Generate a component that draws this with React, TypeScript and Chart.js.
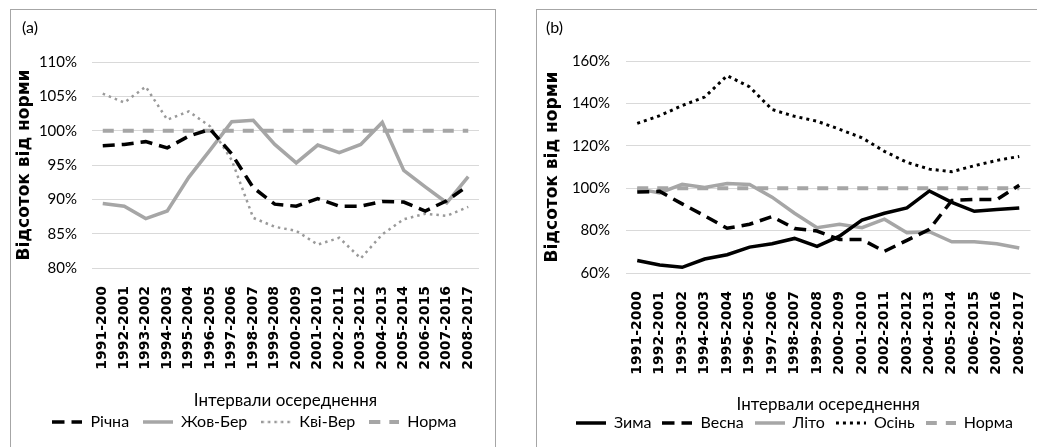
import React, { useEffect, useRef } from "react";
import { Chart, registerables } from "chart.js";

Chart.register(...registerables);

// ---------- data ----------
const intervals = [
  "1991-2000", "1992-2001", "1993-2002", "1994-2003", "1995-2004", "1996-2005",
  "1997-2006", "1998-2007", "1999-2008", "2000-2009", "2001-2010", "2002-2011",
  "2003-2012", "2004-2013", "2005-2014", "2006-2015", "2007-2016", "2008-2017",
];

// panel (a)
const annual = [97.8, 98.0, 98.4, 97.5, 99.2, 100.2, 96.6, 91.7, 89.3, 89.0, 90.1, 89.0, 89.0, 89.7, 89.6, 88.3, 89.8, 92.0];
const octMar = [89.4, 89.0, 87.2, 88.3, 93.2, 97.2, 101.3, 101.5, 98.0, 95.3, 97.9, 96.8, 98.0, 101.2, 94.2, 91.8, 89.5, 93.3];
const aprSep = [105.4, 104.1, 106.4, 101.6, 102.8, 100.6, 95.7, 87.3, 86.0, 85.4, 83.4, 84.4, 81.4, 84.9, 87.1, 87.9, 87.6, 88.9];

// panel (b)
const winter = [65.9, 63.8, 62.7, 66.6, 68.6, 72.2, 73.8, 76.3, 72.6, 77.4, 85.0, 88.2, 90.7, 98.7, 93.3, 89.1, 89.9, 90.7];
const spring = [98.2, 98.5, 92.6, 87.0, 81.1, 83.0, 86.6, 81.0, 79.8, 75.8, 75.8, 70.2, 75.4, 80.6, 94.2, 94.7, 94.6, 101.4];
const summer = [99.8, 97.8, 101.8, 100.3, 102.2, 101.8, 95.8, 88.2, 81.4, 83.0, 81.4, 85.4, 79.0, 79.5, 74.7, 74.7, 73.8, 71.8];
const autumn = [130.6, 134.2, 139.0, 143.0, 153.1, 147.8, 137.1, 133.9, 131.6, 127.8, 123.8, 117.4, 112.2, 109.0, 107.8, 110.6, 113.1, 115.0];

const norm = intervals.map(() => 100);

const labelsA = ["Річна", "Жов-Бер", "Кві-Вер", "Норма"];
const labelsB = ["Зима", "Весна", "Літо", "Осінь", "Норма"];

const yTicksA = { min: 80, max: 110, step: 5 };
const yTicksB = { min: 60, max: 160, step: 20 };

const yTitle = "Відсоток від норми";
const xTitle = "Інтервали осереднення";

// ---------- styles ----------
const GRAY = "#a6a6a6";
const BLACK = "#000000";
const SANS = "Lato, 'Liberation Sans', sans-serif";
const BOLD = "'DejaVu Sans', Verdana, sans-serif";
const SAMPLE_W = 30;

// small legend sample image carrying the series line style
function lineSample(color: string, width: number, dash: number[]) {
  const c = document.createElement("canvas");
  c.width = SAMPLE_W;
  c.height = 16;
  const ctx = c.getContext("2d")!;
  ctx.strokeStyle = color;
  ctx.lineWidth = width;
  ctx.lineCap = "butt";
  ctx.setLineDash(dash);
  ctx.beginPath();
  ctx.moveTo(0, 8);
  ctx.lineTo(SAMPLE_W, 8);
  ctx.stroke();
  return c;
}

function ds(label: string, data: number[], color: string, width: number, dash: number[]) {
  return {
    label,
    data,
    borderColor: color,
    backgroundColor: color,
    borderWidth: width,
    borderDash: dash,
    borderCapStyle: "butt" as const,
    pointRadius: 0,
    pointHoverRadius: 0,
    pointStyle: lineSample(color, width, dash),
    fill: false,
    tension: 0,
  };
}

function panelLabel(text: string, x: number, y: number) {
  return {
    id: "panelLabel",
    afterDraw(chart: any) {
      const ctx = chart.ctx;
      ctx.save();
      ctx.font = `16px ${SANS}`;
      ctx.fillStyle = "#000";
      ctx.textBaseline = "middle";
      ctx.textAlign = "left";
      ctx.fillText(text, x, y);
      ctx.restore();
    },
  };
}

function makeConfig(opts: {
  datasets: any[];
  yr: { min: number; max: number; step: number };
  yWidth: number;
  xHeight: number;
  padLeft: number;
  padRight: number;
  padTop: number;
  yTitlePad: number;
  yTickPad: number;
  legendPad: number;
  tag: string;
  tagX: number;
  tagY: number;
}) {
  return {
    type: "line" as const,
    data: { labels: intervals, datasets: opts.datasets },
    options: {
      responsive: false,
      maintainAspectRatio: false,
      animation: false as const,
      devicePixelRatio: 1,
      layout: { padding: { left: opts.padLeft, right: opts.padRight, top: opts.padTop, bottom: 0 } },
      plugins: {
        title: { display: false },
        tooltip: { enabled: false },
        legend: {
          display: true,
          position: "bottom" as const,
          labels: {
            usePointStyle: true,
            pointStyleWidth: SAMPLE_W,
            color: "#000",
            padding: opts.legendPad,
            font: { family: SANS, size: 16 },
          },
        },
      },
      scales: {
        x: {
          type: "category" as const,
          offset: true,
          grid: {
            display: true,
            color: "rgba(0,0,0,0)",
            drawTicks: true,
            tickLength: 16,
            tickColor: "rgba(0,0,0,0)",
          },
          border: { display: false },
          ticks: {
            autoSkip: false,
            maxRotation: 90,
            minRotation: 90,
            padding: 2,
            color: "#000",
            font: { family: BOLD, size: 14, weight: "bold" as const },
          },
          title: {
            display: true,
            text: xTitle,
            color: "#000",
            font: { family: SANS, size: 17, lineHeight: 1.2 },
            padding: { top: 0, bottom: -11 },
          },
          afterFit: (s: any) => {
            s.height = opts.xHeight;
          },
        },
        y: {
          min: opts.yr.min,
          max: opts.yr.max,
          ticks: {
            stepSize: opts.yr.step,
            padding: opts.yTickPad,
            color: "#000",
            font: { family: SANS, size: 15 },
            callback: (v: any) => `${v}%`,
          },
          grid: { color: "#d9d9d9", lineWidth: 1, drawTicks: false },
          border: { display: false },
          title: {
            display: true,
            text: yTitle,
            color: "#000",
            font: { family: BOLD, size: 17, weight: "bold" as const, lineHeight: 1.2 },
            padding: { top: opts.yTitlePad, bottom: 0 },
          },
          afterFit: (s: any) => {
            s.width = opts.yWidth;
          },
        },
      },
    },
    plugins: [panelLabel(opts.tag, opts.tagX, opts.tagY)],
  };
}

function ChartCanvas({ build, width, height }: { build: () => any; width: number; height: number }) {
  const ref = useRef<HTMLCanvasElement | null>(null);
  useEffect(() => {
    if (!ref.current) return;
    const chart = new Chart(ref.current, build());
    return () => chart.destroy();
  }, []);
  return (
    <canvas
      ref={ref}
      width={width}
      height={height}
      style={{ width, height, display: "block" }}
    />
  );
}

const buildA = () =>
  makeConfig({
    datasets: [
      ds(labelsA[0], annual, BLACK, 3.5, [12, 7]),
      ds(labelsA[1], octMar, GRAY, 3.5, []),
      ds(labelsA[2], aprSep, "#9a9a9a", 2.5, [2.5, 4]),
      ds(labelsA[3], norm, GRAY, 4, [11, 9]),
    ],
    yr: yTicksA,
    yWidth: 62,
    xHeight: 132,
    padLeft: 19,
    padRight: 16,
    padTop: 52,
    yTitlePad: -15.7,
    yTickPad: 15,
    legendPad: 14,
    tag: "(a)",
    tagX: 11,
    tagY: 18,
  });

const buildB = () =>
  makeConfig({
    datasets: [
      ds(labelsB[0], winter, BLACK, 3.5, []),
      ds(labelsB[1], spring, BLACK, 3.5, [12, 7]),
      ds(labelsB[2], summer, GRAY, 3.5, []),
      ds(labelsB[3], autumn, BLACK, 3, [3, 4]),
      ds(labelsB[4], norm, GRAY, 4, [11, 9]),
    ],
    yr: yTicksB,
    yWidth: 67.5,
    xHeight: 131,
    padLeft: 21.5,
    padRight: 21.5,
    padTop: 51,
    yTitlePad: -16.1,
    yTickPad: 16,
    legendPad: 11,
    tag: "(b)",
    tagX: 9,
    tagY: 18,
  });

export default function App() {
  return (
    <div
      style={{
        position: "absolute",
        left: 0,
        top: 0,
        width: 1037,
        height: 447,
        overflow: "hidden",
        background: "#fff",
      }}
    >
      <div
        style={{
          position: "absolute",
          left: 10,
          top: 9,
          width: 484,
          height: 460,
          border: "1px solid #a6a6a6",
        }}
      >
        <ChartCanvas build={buildA} width={484} height={430} />
      </div>
      <div
        style={{
          position: "absolute",
          left: 536,
          top: 9,
          width: 515,
          height: 460,
          border: "1px solid #a6a6a6",
        }}
      >
        <ChartCanvas build={buildB} width={515} height={431} />
      </div>
    </div>
  );
}
